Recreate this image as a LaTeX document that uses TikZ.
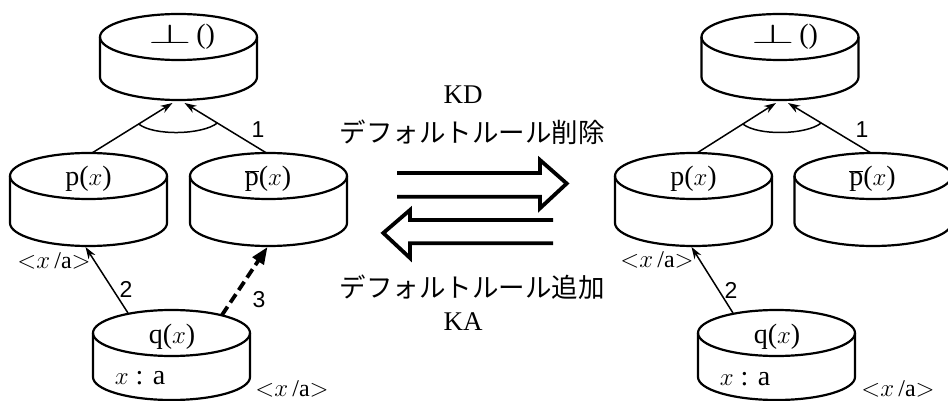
\documentclass[tikz,border=0pt]{standalone}
\usepackage{fontspec}
\usepackage{graphicx}
\setmainfont{Liberation Serif}
\newfontfamily\jpfont{Noto Sans CJK JP}
\newfontfamily\numfont{Liberation Sans}
\usetikzlibrary{arrows.meta,calc}
\tikzset{
  cylline/.style={line width=2.2pt},
  cyl/.pic={
    \draw[cylline] (0,0) ellipse [x radius=78.5, y radius=23];
    \draw[cylline] (-78.5,0) -- (-78.5,#1) arc[start angle=180,end angle=0,x radius=78.5,y radius=23] -- (78.5,0);
    \coordinate (-t) at (0,-23);
    \coordinate (-b) at (0,#1+23);
  },
  lbl/.style={inner sep=0pt, font=\fontsize{28}{32}\selectfont},
  sub/.style={inner sep=0pt, font=\fontsize{24}{28}\selectfont},
  num/.style={inner sep=0pt, font=\numfont\fontsize{23}{26}\selectfont},
  jp/.style={inner sep=0pt, font=\jpfont\fontsize{26.5}{30}\selectfont},
  kk/.style={inner sep=0pt, font=\fontsize{27}{30}\selectfont},
  thinarrow/.style={line width=1.5pt, -{Stealth[length=12pt,width=8pt]}},
  dasharrow/.style={line width=3.8pt, dash pattern=on 10pt off 5pt, -{Triangle[length=17pt,width=13pt]}},
  bigarrow/.style={line width=3.8pt, line join=miter},
  arcline/.style={line width=1.5pt},
}
\newcommand{\bottomtext}{\scalebox{2.25}[1.1]{$\perp$}\,()}
\newcommand{\pbar}{$\overline{\hbox{p}}$($x$)}
\newcommand{\subst}{{$<$}$x\,$/a{$>$}}
\begin{document}
\begin{tikzpicture}[x=1pt,y=-1pt]
\useasboundingbox (0,0) rectangle (948,401);
\clip (0,0) rectangle (948,401);
% ---------- left diagram ----------
\pic (T1) at (178.5,37) {cyl=40};
\pic (P1) at (88.5,176) {cyl=47};
\pic (N1) at (268.5,176) {cyl=47};
\pic (Q1) at (171.5,333) {cyl=44};
\node[lbl] (t1txt) at (181.5,37) {\bottomtext};
\node[lbl] (p1txt) at (88.5,179) {p($x$)};
\node[lbl] (n1txt) at (268,179) {\pbar};
\node[lbl] (q1txt) at (172,337) {q($x$)};
\node[lbl] (q1val) at (140,378) {$x$ : a};
\coordinate (p1s) at ($(P1-t)+(3.5,0)$);
\coordinate (n1s) at ($(N1-t)+(-2,0)$);
\coordinate (t1l) at ($(T1-b)+(-6,3)$);
\coordinate (t1r) at ($(T1-b)+(6,3)$);
\draw[thinarrow] (p1s) -- (t1l);
\draw[thinarrow] (n1s) -- (t1r);
\draw[arcline] ($(p1s)!0.58!(t1l)$) .. controls ($(p1s)!0.58!(t1l)+(15,12)$) and ($(n1s)!0.6!(t1r)+(-15,12)$) .. ($(n1s)!0.6!(t1r)$);
\node[num] (one1) at (258,130) {1};
\coordinate (q1a) at (128,313);
\coordinate (q1d) at (222,315);
\draw[thinarrow] (q1a) -- ($(P1-b)+(-3,1)$);
\draw[dasharrow] (q1d) -- ($(N1-b)+(-1,1)$);
\node[num] (two1) at (126,289) {2};
\node[num] (three1) at (259,300) {3};
\node[sub] (s1a) at (54,261) {\subst};
\node[sub] (s1b) at (292,389) {\subst};
% ---------- right diagram ----------
\pic (T2) at (780,37) {cyl=40};
\pic (P2) at (693.5,176) {cyl=47};
\pic (N2) at (873,176) {cyl=47};
\pic (Q2) at (776.5,333) {cyl=44};
\node[lbl] (t2txt) at (784.5,37) {\bottomtext};
\node[lbl] (p2txt) at (693.5,179) {p($x$)};
\node[lbl] (n2txt) at (872.5,179) {\pbar};
\node[lbl] (q2txt) at (777,337) {q($x$)};
\node[lbl] (q2val) at (745,379) {$x$ : a};
\coordinate (p2s) at ($(P2-t)+(3.5,0)$);
\coordinate (n2s) at ($(N2-t)+(-2,0)$);
\coordinate (t2l) at ($(T2-b)+(-4,3)$);
\coordinate (t2r) at ($(T2-b)+(8,3)$);
\draw[thinarrow] (p2s) -- (t2l);
\draw[thinarrow] (n2s) -- (t2r);
\draw[arcline] ($(p2s)!0.58!(t2l)$) .. controls ($(p2s)!0.58!(t2l)+(15,12)$) and ($(n2s)!0.6!(t2r)+(-15,12)$) .. ($(n2s)!0.6!(t2r)$);
\node[num] (one2) at (862,130) {1};
\coordinate (q2a) at (733,313);
\draw[thinarrow] (q2a) -- ($(P2-b)+(-2,1)$);
\node[num] (two2) at (731,290) {2};
\node[sub] (s2a) at (657,260) {\subst};
\node[sub] (s2b) at (898,389) {\subst};
% ---------- middle ----------
\node[kk] (kd) at (463,95) {KD};
\node[jp] (del) at (472,132) {デフォルトルール削除};
\node[jp] (add) at (472,287) {デフォルトルール追加};
\node[kk] (ka) at (463,322) {KA};
\draw[bigarrow] (397,173) -- (540,173) -- (540,160) -- (566.7,183.5) -- (540,208.3) -- (540,196.7) -- (397,196.7);
\draw[bigarrow] (553,220) -- (410,220) -- (410,210) -- (383.3,233) -- (410,258) -- (410,243.3) -- (553,243.3);
\end{tikzpicture}
\end{document}
